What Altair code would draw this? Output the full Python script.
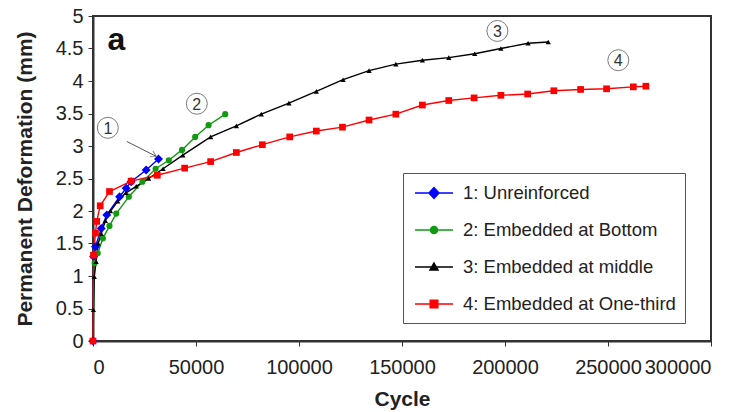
import altair as alt
import pandas as pd

series_names = ["1: Unreinforced", "2: Embedded at Bottom", "3: Embedded at middle", "4: Embedded at One-third"]
series_colors = ["#0000ff", "#109a10", "#000000", "#ff0000"]
series_shapes = ["diamond", "circle", "triangle-up", "square"]
series_sizes = [80, 38, 28, 45]

blue_x = [0, 300, 1200, 4000, 6700, 12900, 16100, 18500, 25800, 31800]
blue_y = [0, 1.30, 1.45, 1.73, 1.94, 2.22, 2.35, 2.45, 2.63, 2.80]

green_x = [0, 800, 2300, 4800, 8000, 11300, 17400, 24000, 30400, 36800, 43200, 49600, 56100, 64200]
green_y = [0, 1.20, 1.35, 1.58, 1.77, 1.96, 2.22, 2.45, 2.65, 2.78, 2.94, 3.14, 3.32, 3.49]

black_x = [0, 200, 600, 1500, 2500, 4000, 6000, 8500, 12000, 16000, 21000, 27000, 34000, 43600,
           57100, 69600, 81700, 95100, 108400, 121400, 134000, 147000, 159900, 172700, 185300,
           198000, 211200, 221000]
black_y = [0, 0.48, 0.99, 1.22, 1.50, 1.65, 1.85, 2.00, 2.15, 2.28, 2.38, 2.50, 2.65, 2.86,
           3.14, 3.31, 3.49, 3.66, 3.84, 4.02, 4.16, 4.26, 4.32, 4.36, 4.42,
           4.50, 4.58, 4.60]

red_x = [0, 250, 1200, 1800, 3500, 8000, 18500, 31200, 44500, 57100, 69600, 82200, 95500, 108400,
         121100, 134000, 147000, 159900, 172700, 185000, 198000, 211000, 223700, 236700, 249300,
         262300, 268400]
red_y = [0, 1.32, 1.66, 1.84, 2.08, 2.30, 2.46, 2.55, 2.66, 2.76, 2.90, 3.02, 3.14, 3.23,
         3.29, 3.40, 3.49, 3.63, 3.70, 3.74, 3.78, 3.80, 3.85, 3.87, 3.88,
         3.91, 3.92]

x_ticks = [0, 50000, 100000, 150000, 200000, 250000, 300000]
y_ticks = [0, 0.5, 1, 1.5, 2, 2.5, 3, 3.5, 4, 4.5, 5]

ann_x = [7200, 50400, 196300, 255000]
ann_y = [3.28, 3.65, 4.77, 4.32]
ann_text = ["1", "2", "3", "4"]

arrow_x = [16400, 30700]
arrow_y = [3.07, 2.84]

panel_x = [11400]
panel_y = [4.48]
panel_text = ["a"]

legend_paths = [
    "M-1.9,0L1.9,0M-0.5,0L0,-0.55L0.5,0L0,0.55Z",
    "M-1.9,0L1.9,0M0.35,0A0.35,0.35,0,1,1,-0.35,0A0.35,0.35,0,1,1,0.35,0Z",
    "M-1.9,0L1.9,0M0,-0.4L0.4,0.3L-0.4,0.3Z",
    "M-1.9,0L1.9,0M-0.38,-0.38L0.38,-0.38L0.38,0.38L-0.38,0.38Z",
]

rows = []
for name, xs, ys in zip(series_names, [blue_x, green_x, black_x, red_x], [blue_y, green_y, black_y, red_y]):
    for i, (xv, yv) in enumerate(zip(xs, ys)):
        rows.append({"series": name, "cycle": xv, "deform": yv, "order": i})
df = pd.DataFrame(rows)

ann_df = pd.DataFrame({"cycle": ann_x, "deform": ann_y, "label": ann_text})
arrow_df = pd.DataFrame({"cycle": arrow_x, "deform": arrow_y, "order": [0, 1]})
arrow_tip = arrow_df.iloc[[1]]
panel_df = pd.DataFrame({"cycle": panel_x, "deform": panel_y, "label": panel_text})

FONT = "Arial, Liberation Sans, sans-serif"

xenc = alt.X("cycle:Q", scale=alt.Scale(domain=[0, 300000], nice=False, zero=False),
             axis=alt.Axis(values=x_ticks, format="d", title="Cycle", grid=False,
                           labelFontSize=20, labelFont=FONT, labelColor="#222",
                           tickSize=5, labelPadding=11, tickColor="#333", domainColor="#333",
                           domainWidth=2, titleFont=FONT, titleFontSize=21, titleFontWeight="bold",
                           titleColor="#222", titleY=64, titleBaseline="alphabetic"))
yenc = alt.Y("deform:Q", scale=alt.Scale(domain=[0, 5], nice=False),
             axis=alt.Axis(values=y_ticks, format="~g", title="Permanent Deformation (mm)", grid=False,
                           labelFontSize=20, labelFont=FONT, labelColor="#222",
                           tickSize=5, labelPadding=5, tickColor="#333", domainColor="#333",
                           domainWidth=2, titleFont=FONT, titleFontSize=21, titleFontWeight="bold",
                           titleColor="#222", titleX=-68, titleBaseline="middle"))

color_scale = alt.Scale(domain=series_names, range=series_colors)

lines = alt.Chart(df).mark_line(strokeWidth=1.4).encode(
    x=xenc, y=yenc,
    color=alt.Color("series:N", scale=color_scale, legend=None),
    order="order:Q",
)

point_layers = []
for name, shp, sz in zip(series_names, series_shapes, series_sizes):
    point_layers.append(
        alt.Chart(df).transform_filter(alt.datum.series == name).mark_point(
            shape=shp, filled=True, size=sz, opacity=1
        ).encode(x=xenc, y=yenc, color=alt.Color("series:N", scale=color_scale, legend=None))
    )

leg = alt.Legend(title=None, orient="none", legendX=310, legendY=157,
                 symbolSize=400, symbolOffset=11, symbolStrokeWidth=1.5, symbolOpacity=1,
                 labelFont=FONT, labelFontSize=18.5, labelColor="#222", labelOffset=18,
                 rowPadding=16, padding=9, strokeColor="#555", fillColor="white",
                 labelLimit=400)

legend_layer = alt.Chart(df).mark_point(opacity=0, filled=True, strokeWidth=1.5).encode(
    x=xenc, y=yenc,
    fill=alt.Fill("series:N", scale=alt.Scale(domain=series_names, range=series_colors), legend=leg),
    stroke=alt.Stroke("series:N", scale=alt.Scale(domain=series_names, range=series_colors), legend=leg),
    shape=alt.Shape("series:N", scale=alt.Scale(domain=series_names, range=legend_paths), legend=leg),
)

ann_circles = alt.Chart(ann_df).mark_point(shape="circle", size=440, filled=False,
                                          stroke="#444", strokeWidth=1).encode(x=xenc, y=yenc)
ann_labels = alt.Chart(ann_df).mark_text(font=FONT, fontSize=16, color="#333",
                                         baseline="middle", align="center", dy=1).encode(
    x=xenc, y=yenc, text="label:N")

arrow_line = alt.Chart(arrow_df).mark_line(color="#555", strokeWidth=1).encode(
    x=xenc, y=yenc, order="order:Q")
arrow_head = alt.Chart(arrow_tip).mark_point(shape="M-1,-0.6L0,0L-1,0.6", angle=27, size=120,
                                            filled=False, stroke="#555", strokeWidth=1).encode(x=xenc, y=yenc)

panel = alt.Chart(panel_df).mark_text(font=FONT, fontSize=32, fontWeight="bold", color="#111",
                                      baseline="alphabetic", align="center").encode(
    x=xenc, y=yenc, text="label:N")

chart = alt.layer(
    legend_layer, lines, *point_layers, ann_circles, ann_labels, arrow_line, arrow_head, panel
).properties(
    width=618, height=325,
    autosize=alt.AutoSizeParams(type="none"),
    padding={"left": 93, "top": 16, "right": 37, "bottom": 71},
    background="white",
).configure_view(stroke="#333", strokeWidth=2)

chart.save("out.html", embed_options={"renderer": "svg", "actions": False})
